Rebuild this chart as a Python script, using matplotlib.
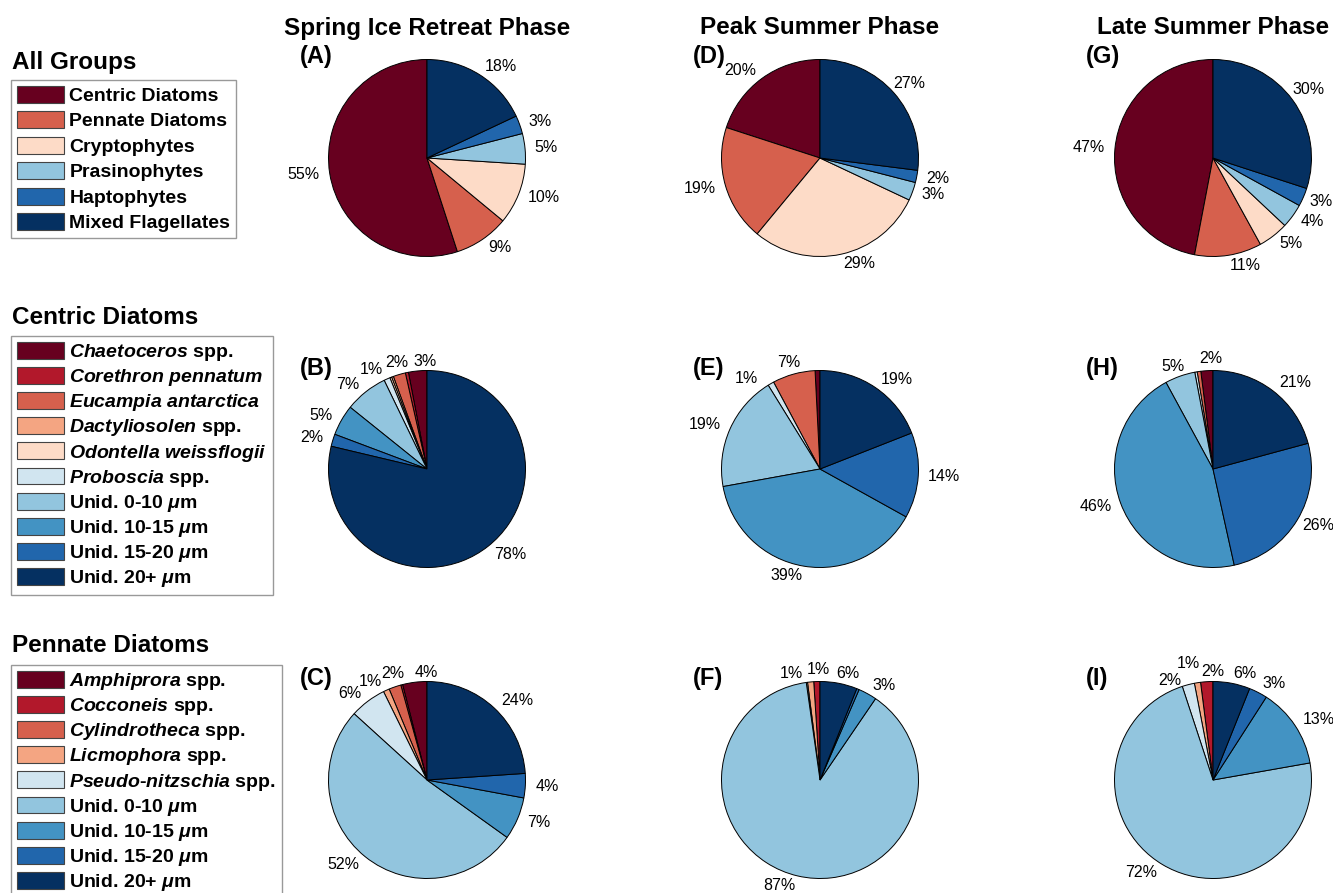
import matplotlib
matplotlib.use('Agg')
import matplotlib.pyplot as plt
from matplotlib.patches import Patch

plt.rcParams['font.family'] = ['Liberation Sans', 'DejaVu Sans']
plt.rcParams['mathtext.fontset'] = 'custom'
plt.rcParams['mathtext.rm'] = 'Liberation Sans:bold'
plt.rcParams['mathtext.it'] = 'Liberation Sans:italic:bold'
plt.rcParams['mathtext.bf'] = 'Liberation Sans:bold'

# phases (columns) and panel tags
phases = ['Spring Ice Retreat Phase', 'Peak Summer Phase', 'Late Summer Phase']
tags = [['(A)', '(D)', '(G)'], ['(B)', '(E)', '(H)'], ['(C)', '(F)', '(I)']]

# row 1: all groups
group_names = ['Centric Diatoms', 'Pennate Diatoms', 'Cryptophytes',
               'Prasinophytes', 'Haptophytes', 'Mixed Flagellates']
group_colors = ['#67001f', '#d6604d', '#fddbc7', '#92c5de', '#2166ac', '#053061']
groups_spring = [55, 9, 10, 5, 3, 18]
groups_peak = [20, 19, 29, 3, 2, 27]
groups_late = [47, 11, 5, 4, 3, 30]

# row 2: centric diatoms
centric_names = [r'$\mathit{Chaetoceros}$ spp.', r'$\mathit{Corethron}$ $\mathit{pennatum}$',
                 r'$\mathit{Eucampia}$ $\mathit{antarctica}$', r'$\mathit{Dactyliosolen}$ spp.',
                 r'$\mathit{Odontella}$ $\mathit{weissflogii}$', r'$\mathit{Proboscia}$ spp.',
                 r'Unid. 0-10 $\mu$m', r'Unid. 10-15 $\mu$m', r'Unid. 15-20 $\mu$m', r'Unid. 20+ $\mu$m']
centric_colors = ['#67001f', '#b2182b', '#d6604d', '#f4a582', '#fddbc7',
                  '#d1e5f0', '#92c5de', '#4393c3', '#2166ac', '#053061']
centric_spring = [3, 0.5, 2, 0.3, 0.3, 1, 7, 5, 2, 78]
centric_peak = [0.8, 0, 7, 0, 0, 1, 19, 39, 14, 19]
centric_late = [2, 0, 0.6, 0, 0, 0.4, 5, 46, 26, 21]

# row 3: pennate diatoms
pennate_names = [r'$\mathit{Amphiprora}$ spp.', r'$\mathit{Cocconeis}$ spp.',
                 r'$\mathit{Cylindrotheca}$ spp.', r'$\mathit{Licmophora}$ spp.',
                 r'$\mathit{Pseudo}$-$\mathit{nitzschia}$ spp.',
                 r'Unid. 0-10 $\mu$m', r'Unid. 10-15 $\mu$m', r'Unid. 15-20 $\mu$m', r'Unid. 20+ $\mu$m']
pennate_colors = ['#67001f', '#b2182b', '#d6604d', '#f4a582', '#d1e5f0',
                  '#92c5de', '#4393c3', '#2166ac', '#053061']
pennate_spring = [4, 0.3, 2, 1, 6, 52, 7, 4, 24]
pennate_peak = [0, 1, 0, 1, 0.2, 87, 3, 0.4, 6]
pennate_late = [0, 2, 0, 1, 2, 72, 13, 3, 6]

W, H = 1333, 893
fig = plt.figure(figsize=(W / 100, H / 100), dpi=100)

R = 98.5
col_x = [427, 820, 1213]
row_y = [158, 469, 780]

# hand nudges for crowded labels: (row, col) -> {slice: (ha, dx px, dy px)}
label_moves = {
    (0, 1): {5: (None, -8, -3)},
    (0, 2): {4: (None, -3, 0), 5: (None, -8, -5)},
    (1, 0): {0: ('center', 8, 0), 2: ('center', 0, -3)},
    (1, 1): {2: ('center', -2, -2), 5: (None, -8, 3)},
    (1, 2): {0: ('center', 5, -2), 6: (None, 8, 0), 8: (None, -3, 0)},
    (2, 0): {0: ('center', 13, 0), 2: ('center', 1, -4)},
    (2, 1): {1: ('center', 2, -2), 3: (None, -7, 1), 8: (None, -4, 0)},
    (2, 2): {1: ('center', 7, 0), 3: (None, 4, -10), 4: (None, -4, 5)},
}


def draw_pie(cx, cy, vals, colors, moves):
    ax = fig.add_axes([(cx - R) / W, 1 - (cy + R) / H, 2 * R / W, 2 * R / H])
    keep = [i for i, v in enumerate(vals) if v > 0]
    v = [vals[i] for i in keep]
    c = [colors[i] for i in keep]
    lbl = [f'{vals[i]:.0f}%' if vals[i] >= 1 else '' for i in keep]
    wedges, texts = ax.pie(v, colors=c, labels=lbl, startangle=90, counterclock=True,
                           labeldistance=1.1,
                           wedgeprops=dict(edgecolor='black', linewidth=0.7),
                           textprops=dict(fontsize=11.5))
    for k, i in enumerate(keep):
        if i in moves:
            ha, dx, dy = moves[i]
            x, y = texts[k].get_position()
            texts[k].set_position((x + dx / R, y - dy / R))
            if ha:
                texts[k].set_ha(ha)
    ax.set_xlim(-1, 1)
    ax.set_ylim(-1, 1)
    return ax


rows = [(groups_spring, groups_peak, groups_late, group_colors),
        (centric_spring, centric_peak, centric_late, centric_colors),
        (pennate_spring, pennate_peak, pennate_late, pennate_colors)]

for r, (s, p, l, cols) in enumerate(rows):
    for c, vals in enumerate([s, p, l]):
        draw_pie(col_x[c], row_y[r], vals, cols, label_moves.get((r, c), {}))
        fig.text((col_x[c] - 127) / W, 1 - (row_y[r] - 101) / H, tags[r][c],
                 fontsize=17, fontweight='bold', ha='left', va='center')

for c, ph in enumerate(phases):
    fig.text(col_x[c] / W, 1 - 28 / H, ph, fontsize=17.5, fontweight='bold',
             ha='center', va='center')

# legends on the left: title, names, colours, heading y, box top y, row spacing
legend_info = [('All Groups', group_names, group_colors, 62, 80, 0.33),
               ('Centric Diatoms', centric_names, centric_colors, 318, 336, 0.21),
               ('Pennate Diatoms', pennate_names, pennate_colors, 645, 665, 0.21)]
for title, names, cols, ty, by, sp in legend_info:
    fig.text(12 / W, 1 - ty / H, title, fontsize=17.5, fontweight='bold',
             ha='left', va='center')
    handles = [Patch(facecolor=col, edgecolor='#444444', linewidth=0.8) for col in cols]
    leg = fig.legend(handles, names, loc='upper left', bbox_to_anchor=(11 / W, 1 - by / H),
                     prop=dict(size=14, weight='bold'), frameon=True, fancybox=False,
                     handlelength=2.4, handleheight=0.95, handletextpad=0.3,
                     labelspacing=sp, borderpad=0.3, borderaxespad=0)
    leg.get_frame().set_edgecolor('#808080')
    leg.get_frame().set_linewidth(1.0)

fig.savefig('out.png', dpi=100)
